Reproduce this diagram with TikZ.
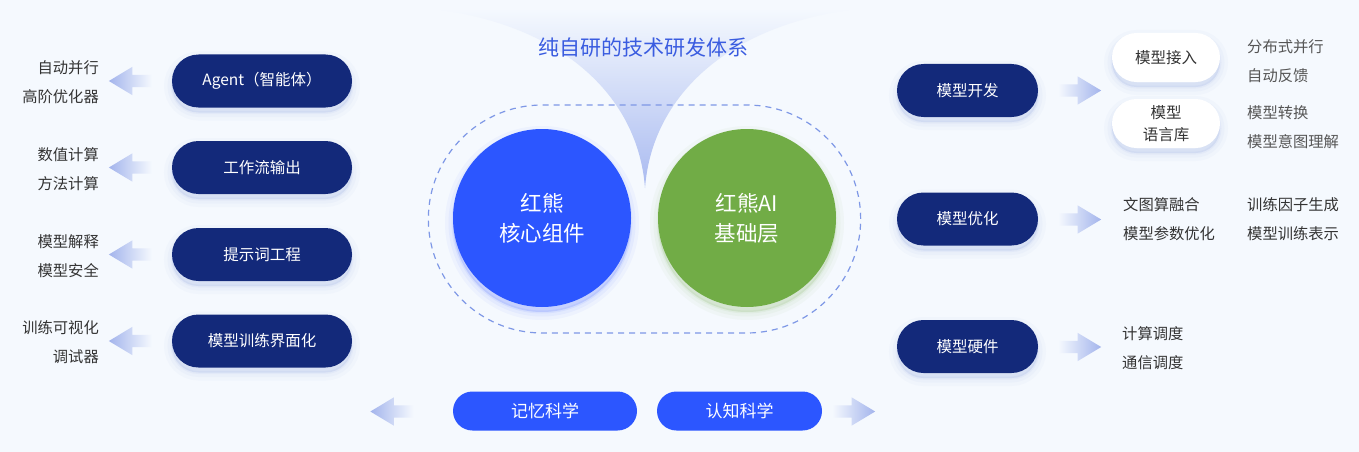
\documentclass[tikz,border=0pt]{standalone}
\usepackage{fontspec}
\setmainfont{Noto Sans CJK SC}
\usetikzlibrary{shapes.misc,shapes.arrows,shadows}

\definecolor{bgc}{HTML}{F5F9FE}
\definecolor{navy}{HTML}{13297A}
\definecolor{royal}{HTML}{2C56FF}
\definecolor{leaf}{HTML}{71AC46}
\definecolor{titlec}{HTML}{3A5CE0}
\definecolor{dashc}{HTML}{7E98E6}
\definecolor{arrowc}{HTML}{A3B4EC}
\definecolor{funnelc}{HTML}{A9BAF0}
\definecolor{shadowc}{HTML}{8098E0}
\definecolor{textc}{HTML}{333333}
\definecolor{greyc}{HTML}{555555}

\tikzset{
  softshadow/.style={
      general shadow={shadow yshift=-5pt, fill=#1, draw=#1, line width=16pt, opacity=0.04},
      general shadow={shadow yshift=-5pt, fill=#1, draw=#1, line width=9pt, opacity=0.05},
      general shadow={shadow yshift=-5pt, fill=#1, draw=#1, line width=3pt, opacity=0.07}},
  softshadow/.default=shadowc,
  pill/.style={rounded rectangle, fill=navy, text=white, inner sep=0pt,
      minimum height=53pt, font=\fontsize{15.5}{18}\selectfont, softshadow},
  subpill/.style={rounded rectangle, fill=white, text=textc, inner sep=0pt,
      align=center, minimum width=108pt, minimum height=49pt,
      font=\fontsize{15.5}{22}\selectfont, softshadow},
  sciencepill/.style={rounded rectangle, fill=royal, text=white, inner sep=0pt,
      minimum height=39pt, font=\fontsize{17}{20}\selectfont},
  arrowR/.style={single arrow, draw=none, inner xsep=0pt, inner ysep=6pt,
      minimum height=43pt, minimum width=28pt, single arrow head extend=8pt,
      single arrow tip angle=62, left color=bgc, right color=arrowc},
  arrowL/.style={arrowR, shape border rotate=180, left color=arrowc, right color=bgc},
  feature/.style={align=left, anchor=west, inner sep=0pt, text=textc,
      font=\fontsize{15.3}{29}\selectfont},
}

\begin{document}
\begin{tikzpicture}[x=1pt,y=-1pt]
  \fill[bgc] (0,0) rectangle (1359,452);
  \useasboundingbox (0,0) rectangle (1359,452);

  % funnel behind the title
  \shade[top color=bgc, bottom color=funnelc]
    (425,8) .. controls (560,22) and (638,95) .. (645,188)
    .. controls (652,95) and (730,22) .. (865,8) -- cycle;
  \node[text=titlec, font=\fontsize{21}{24}\selectfont] (title) at (643,48) {纯自研的技术研发体系};

  \node[rounded rectangle, draw=dashc, dash pattern=on 6pt off 5pt, line width=1.2pt,
        minimum width=439pt, minimum height=228pt] (frame) at (644.5,219) {};

  \begin{scope}[every node/.style={circle, minimum size=178pt, text=white, align=center,
        font=\fontsize{21.5}{30}\selectfont}]
    \node[fill=royal, softshadow=royal] (core) at (542,218) {红熊\\核心组件};
    \node[fill=leaf, softshadow=leaf]  (base) at (747,218) {红熊AI\\基础层};
  \end{scope}

  % left column
  \begin{scope}[every node/.style={pill, minimum width=180pt}]
    \node (agent)  at (262,81)    {Agent（智能体）};
    \node (flow)   at (262,167.5) {工作流输出};
    \node (prompt) at (262,254.5) {提示词工程};
    \node (ui)     at (262,341)   {模型训练界面化};
  \end{scope}

  \begin{scope}[every node/.style={arrowL}]
    \node (la1) at (135.5,81)    {};
    \node (la2) at (135.5,167.5) {};
    \node (la3) at (135.5,254.5) {};
    \node (la4) at (135.5,341)   {};
  \end{scope}

  \begin{scope}[every node/.style={feature, anchor=east, align=right}]
    \node (agentx)  at (99,82.5)  {自动并行\\高阶优化器};
    \node (flowx)   at (99,169.5) {数值计算\\方法计算};
    \node (promptx) at (99,256.5) {模型解释\\模型安全};
    \node (uix)     at (99,342.5) {训练可视化\\调试器};
  \end{scope}

  % right column
  \begin{scope}[every node/.style={pill, minimum width=141pt}]
    \node (dev)  at (967.5,90.5)  {模型开发};
    \node (opt)  at (967.5,219)   {模型优化};
    \node (hard) at (967.5,346.5) {模型硬件};
  \end{scope}

  \begin{scope}[every node/.style={arrowR}]
    \node (ra1) at (1074.5,90.5) {};
    \node (ra2) at (1074.5,219.5) {};
    \node (ra3) at (1074.5,347) {};
  \end{scope}

  \node[subpill] (access) at (1166,57.5)  {模型接入};
  \node[subpill] (lib)    at (1166,123.5) {模型\\语言库};

  \begin{scope}[every node/.style={feature}]
    \node[text=greyc] (accessx) at (1247,61)  {分布式并行\\自动反馈};
    \node[text=greyc] (libx)    at (1247,127) {模型转换\\模型意图理解};
    \node (optx)  at (1123,219) {文图算融合\\模型参数优化};
    \node (opty)  at (1247,219) {训练因子生成\\模型训练表示};
    \node (hardx) at (1122,348) {计算调度\\通信调度};
  \end{scope}

  % bottom row
  \node[sciencepill, minimum width=184pt] (memory) at (545,411)   {记忆科学};
  \node[sciencepill, minimum width=165pt] (cogn)   at (739.5,411) {认知科学};
  \node[arrowL] (ba1) at (397,411.5) {};
  \node[arrowR] (ba2) at (848.5,411.5) {};

\end{tikzpicture}
\end{document}
